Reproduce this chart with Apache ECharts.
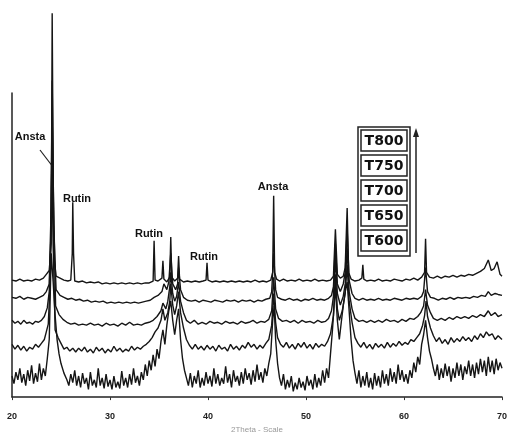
<!DOCTYPE html>
<html>
<head>
<meta charset="utf-8">
<script src="https://cdn.jsdelivr.net/npm/echarts@6/dist/echarts.min.js"></script>
<style>
html, body { margin: 0; padding: 0; background: #fff; }
#xrd { width: 512px; height: 439px; }
</style>
</head>
<body>
<div id="xrd"></div>
<script>
// tick labels on 2theta axis
var xTicks = [20, 30, 40, 50, 60, 70];
var sampleNames = ['T800', 'T750', 'T700', 'T650', 'T600'];

// [2theta, stacked intensity]
var t800 = [[20,122],[20.4,121],[20.8,123],[21.2,121],[21.6,122],[22,121],[22.4,123],[22.8,122],[23.2,124],[23.5,128],[23.8,132],[24.0,160],[24.1,400],[24.25,150],[24.5,126],[24.9,124],[25.3,122],[25.7,121],[26.0,122],[26.15,150],[26.2,203],[26.28,150],[26.4,121],[26.8,120],[27.2,121],[27.6,119],[28,120],[28.4,119],[28.8,120],[29.2,118],[29.6,119],[30,118],[30.4,119],[30.8,118],[31.2,119],[31.6,118],[32,119],[32.4,118],[32.8,119],[33.2,118],[33.6,119],[34,119],[34.4,121],[34.5,163],[34.6,122],[34.9,121],[35.3,124],[35.4,142],[35.5,123],[35.8,120],[36.1,125],[36.2,167],[36.3,125],[36.6,121],[36.9,124],[37.0,147],[37.1,123],[37.5,120],[37.9,121],[38.3,120],[38.7,121],[39.1,120],[39.5,121],[39.8,122],[39.9,140],[40.0,122],[40.4,120],[40.8,121],[41.2,120],[41.6,121],[42,120],[42.4,121],[42.8,120],[43.2,121],[43.6,120],[44,121],[44.4,120],[44.8,122],[45.2,120],[45.6,121],[46,120],[46.4,122],[46.6,130],[46.7,210],[46.8,130],[47,123],[47.3,121],[47.7,123],[48.1,121],[48.5,122],[48.9,121],[49.3,123],[49.7,121],[50.1,122],[50.5,121],[50.9,123],[51.3,121],[51.7,122],[52.1,121],[52.5,122],[52.8,126],[53.0,175],[53.2,128],[53.5,124],[53.8,126],[54.0,135],[54.2,197],[54.35,130],[54.6,123],[55,121],[55.4,122],[55.7,124],[55.8,138],[55.9,123],[56.2,121],[56.6,122],[57,121],[57.4,123],[57.8,121],[58.2,122],[58.6,121],[59,123],[59.4,122],[59.8,121],[60.2,123],[60.6,122],[61,124],[61.4,122],[61.8,125],[62.1,130],[62.2,165],[62.3,130],[62.6,125],[63,124],[63.4,126],[63.8,124],[64.2,126],[64.6,125],[65,127],[65.4,125],[65.8,127],[66.2,126],[66.6,128],[67,127],[67.4,129],[67.8,131],[68.2,134],[68.6,143],[68.9,132],[69.2,134],[69.5,141],[69.8,128],[70,126]];

var t750 = [[20,104],[20.4,103],[20.8,105],[21.2,102],[21.6,104],[22,103],[22.4,102],[22.8,104],[23.2,106],[23.5,110],[23.8,118],[24.0,200],[24.1,330],[24.25,180],[24.5,112],[24.9,106],[25.3,104],[25.7,102],[26.1,103],[26.5,101],[26.9,102],[27.3,100],[27.7,101],[28.1,99],[28.5,100],[28.9,99],[29.3,100],[29.7,98],[30.1,99],[30.5,98],[30.9,99],[31.3,98],[31.7,99],[32.1,98],[32.5,99],[32.9,98],[33.3,99],[33.7,100],[34.1,101],[34.5,104],[34.9,106],[35.3,110],[35.5,118],[35.8,112],[36.0,120],[36.2,150],[36.4,118],[36.7,112],[36.9,118],[37.0,135],[37.2,112],[37.5,104],[37.9,101],[38.3,100],[38.7,101],[39.1,99],[39.5,101],[39.9,100],[40.3,99],[40.7,101],[41.1,100],[41.5,99],[41.9,101],[42.3,100],[42.7,101],[43.1,99],[43.5,101],[43.9,100],[44.3,101],[44.7,99],[45.1,101],[45.5,100],[45.9,102],[46.3,103],[46.5,110],[46.7,150],[46.9,112],[47.1,104],[47.5,102],[47.9,101],[48.3,103],[48.7,101],[49.1,102],[49.5,100],[49.9,102],[50.3,101],[50.7,103],[51.1,101],[51.5,102],[51.9,101],[52.3,103],[52.6,106],[52.8,115],[53.0,160],[53.2,118],[53.5,110],[53.8,118],[54.0,130],[54.2,175],[54.4,122],[54.7,108],[55,103],[55.4,101],[55.8,103],[56.2,101],[56.6,102],[57,101],[57.4,103],[57.8,101],[58.2,102],[58.6,101],[59,103],[59.4,102],[59.8,101],[60.2,103],[60.6,102],[61,103],[61.4,102],[61.8,105],[62.0,110],[62.2,135],[62.4,110],[62.7,104],[63.1,103],[63.5,101],[63.9,103],[64.3,102],[64.7,104],[65.1,102],[65.5,104],[65.9,103],[66.3,104],[66.7,103],[67.1,105],[67.5,104],[67.9,106],[68.3,105],[68.6,110],[68.9,106],[69.3,108],[69.6,107],[70,106]];

var t700 = [[20,80],[20.3,77],[20.6,79],[20.9,76],[21.2,80],[21.5,77],[21.8,78],[22.1,76],[22.4,79],[22.7,78],[23.0,80],[23.3,84],[23.6,93],[23.8,110],[24.0,180],[24.1,290],[24.25,200],[24.45,95],[24.8,86],[25.2,81],[25.6,78],[26,76],[26.4,77],[26.8,75],[27.2,76],[27.6,75],[28,77],[28.4,75],[28.8,76],[29.2,74],[29.6,77],[30,75],[30.4,76],[30.8,74],[31.2,77],[31.6,75],[32,78],[32.4,75],[32.8,76],[33.2,75],[33.6,77],[34,78],[34.4,80],[34.8,84],[35.2,90],[35.4,98],[35.7,92],[35.9,100],[36.1,115],[36.2,130],[36.4,108],[36.6,100],[36.8,105],[37.0,120],[37.2,100],[37.5,88],[37.8,80],[38.2,77],[38.6,80],[39,76],[39.4,78],[39.8,76],[40.2,79],[40.6,77],[41,78],[41.4,76],[41.8,79],[42.2,77],[42.6,78],[43,76],[43.4,79],[43.8,77],[44.2,78],[44.6,80],[45,77],[45.4,79],[45.8,78],[46.2,81],[46.5,90],[46.7,125],[46.9,92],[47.2,82],[47.6,79],[48,80],[48.4,78],[48.8,80],[49.2,77],[49.6,80],[50,78],[50.4,79],[50.8,77],[51.2,80],[51.6,78],[52,79],[52.3,82],[52.6,90],[52.8,105],[53.0,145],[53.2,108],[53.5,96],[53.8,105],[54.0,118],[54.2,155],[54.4,110],[54.7,92],[55,82],[55.4,79],[55.8,80],[56.2,78],[56.6,80],[57,78],[57.4,80],[57.8,78],[58.2,81],[58.6,79],[59,80],[59.4,78],[59.8,81],[60.2,79],[60.6,82],[61,81],[61.4,84],[61.7,88],[62.0,95],[62.2,112],[62.4,96],[62.7,88],[63,82],[63.4,80],[63.8,82],[64.2,80],[64.6,83],[65,81],[65.4,84],[65.8,82],[66.2,84],[66.6,82],[67,85],[67.4,83],[67.8,86],[68.2,84],[68.6,90],[68.9,85],[69.3,88],[69.6,84],[70,86]];

var t650 = [[20,55],[20.3,50],[20.6,54],[20.9,49],[21.2,53],[21.5,48],[21.8,52],[22.1,50],[22.4,55],[22.7,52],[23.0,56],[23.3,60],[23.5,68],[23.7,76],[23.9,120],[24.05,250],[24.2,160],[24.4,70],[24.7,62],[25.0,56],[25.3,50],[25.6,52],[25.9,48],[26.2,51],[26.5,47],[26.8,51],[27.1,48],[27.4,52],[27.7,47],[28,50],[28.3,46],[28.6,52],[28.9,48],[29.2,51],[29.5,46],[29.8,50],[30.1,47],[30.4,53],[30.7,48],[31,51],[31.3,47],[31.6,50],[31.9,48],[32.2,53],[32.5,49],[32.8,52],[33.1,50],[33.4,53],[33.7,55],[34,58],[34.3,62],[34.6,68],[34.9,72],[35.2,80],[35.4,92],[35.6,80],[35.9,88],[36.1,100],[36.2,118],[36.4,96],[36.6,86],[36.8,95],[37.0,110],[37.2,88],[37.5,72],[37.8,60],[38.1,54],[38.4,50],[38.7,55],[39,50],[39.3,53],[39.6,49],[39.9,54],[40.2,50],[40.5,53],[40.8,48],[41.1,54],[41.4,50],[41.7,52],[42,48],[42.3,55],[42.6,50],[42.9,53],[43.2,49],[43.5,54],[43.8,51],[44.1,57],[44.4,52],[44.7,55],[45,50],[45.3,54],[45.6,51],[45.9,56],[46.2,60],[46.5,75],[46.7,108],[46.9,78],[47.1,62],[47.4,55],[47.7,52],[48,57],[48.3,51],[48.6,55],[48.9,50],[49.2,56],[49.5,52],[49.8,57],[50.1,51],[50.4,55],[50.7,50],[51,56],[51.3,52],[51.6,55],[51.9,53],[52.2,58],[52.5,66],[52.8,85],[53.0,128],[53.2,92],[53.4,80],[53.7,90],[54.0,108],[54.2,138],[54.4,100],[54.7,78],[55,62],[55.3,56],[55.6,52],[55.9,57],[56.2,51],[56.5,55],[56.8,50],[57.1,56],[57.4,52],[57.7,55],[58,51],[58.3,57],[58.6,52],[58.9,56],[59.2,53],[59.5,58],[59.8,54],[60.1,57],[60.4,55],[60.7,60],[61,58],[61.3,62],[61.6,66],[61.9,75],[62.1,85],[62.25,100],[62.4,84],[62.7,72],[63,64],[63.3,58],[63.6,62],[63.9,56],[64.2,60],[64.5,55],[64.8,62],[65.1,57],[65.4,61],[65.7,58],[66,63],[66.3,59],[66.6,62],[66.9,58],[67.2,64],[67.5,60],[67.8,66],[68.1,62],[68.4,68],[68.7,64],[69,66],[69.3,60],[69.6,64],[70,60]];

var t600 = [[20,22],[20.2,14],[20.4,26],[20.6,18],[20.8,30],[21.0,15],[21.2,24],[21.4,12],[21.6,28],[21.8,17],[22.0,33],[22.2,14],[22.4,25],[22.6,16],[22.8,35],[23.0,18],[23.2,30],[23.4,22],[23.6,40],[23.8,60],[24.0,150],[24.2,120],[24.4,85],[24.6,60],[24.8,45],[25.0,35],[25.3,25],[25.6,18],[25.8,12],[26.0,24],[26.2,15],[26.4,28],[26.6,12],[26.8,22],[27.0,10],[27.2,25],[27.4,14],[27.6,20],[27.8,8],[28.0,26],[28.2,12],[28.4,18],[28.6,10],[28.8,30],[29.0,12],[29.2,20],[29.4,9],[29.6,24],[29.8,11],[30.0,18],[30.2,8],[30.4,22],[30.6,10],[30.8,16],[31.0,9],[31.2,27],[31.4,12],[31.6,20],[31.8,10],[32.0,24],[32.2,13],[32.4,30],[32.6,15],[32.8,22],[33.0,12],[33.2,26],[33.4,18],[33.6,34],[33.8,22],[34.0,38],[34.2,28],[34.4,44],[34.6,32],[34.8,50],[35.0,40],[35.2,58],[35.4,70],[35.6,55],[35.8,75],[36.0,90],[36.2,100],[36.4,80],[36.6,65],[36.8,80],[37.0,92],[37.2,60],[37.4,40],[37.6,28],[37.8,20],[38.0,12],[38.2,25],[38.4,10],[38.6,22],[38.8,14],[39.0,28],[39.2,10],[39.4,20],[39.6,12],[39.8,26],[40.0,14],[40.2,22],[40.4,11],[40.6,30],[40.8,14],[41.0,24],[41.2,12],[41.4,20],[41.6,14],[41.8,32],[42.0,15],[42.2,24],[42.4,10],[42.6,28],[42.8,16],[43.0,22],[43.2,12],[43.4,26],[43.6,14],[43.8,30],[44.0,18],[44.2,25],[44.4,13],[44.6,28],[44.8,16],[45.0,34],[45.2,18],[45.4,26],[45.6,15],[45.8,30],[46.0,22],[46.2,35],[46.4,45],[46.6,80],[46.75,95],[46.9,60],[47.1,35],[47.3,20],[47.5,12],[47.7,24],[47.9,8],[48.1,18],[48.3,10],[48.5,22],[48.7,6],[48.9,15],[49.1,8],[49.3,20],[49.5,10],[49.7,16],[49.9,7],[50.1,22],[50.3,12],[50.5,18],[50.7,8],[50.9,24],[51.1,10],[51.3,20],[51.5,12],[51.7,28],[51.9,15],[52.1,30],[52.3,20],[52.5,45],[52.7,70],[52.9,100],[53.0,115],[53.2,80],[53.4,60],[53.6,78],[53.8,95],[54.0,110],[54.2,120],[54.4,90],[54.6,60],[54.8,38],[55.0,25],[55.2,14],[55.4,28],[55.6,10],[55.8,22],[56.0,12],[56.2,26],[56.4,10],[56.6,20],[56.8,8],[57.0,25],[57.2,12],[57.4,22],[57.6,10],[57.8,28],[58.0,14],[58.2,24],[58.4,12],[58.6,30],[58.8,16],[59.0,26],[59.2,14],[59.4,34],[59.6,18],[59.8,28],[60.0,16],[60.2,24],[60.4,14],[60.6,28],[60.8,20],[61.0,36],[61.2,26],[61.4,42],[61.6,34],[61.8,55],[62.0,65],[62.2,80],[62.4,62],[62.6,48],[62.8,40],[63.0,30],[63.2,22],[63.4,34],[63.6,18],[63.8,30],[64.0,20],[64.2,35],[64.4,22],[64.6,32],[64.8,16],[65.0,30],[65.2,20],[65.4,36],[65.6,22],[65.8,34],[66.0,18],[66.2,32],[66.4,24],[66.6,38],[66.8,22],[67.0,34],[67.2,20],[67.4,36],[67.6,24],[67.8,40],[68.0,26],[68.2,38],[68.4,22],[68.6,42],[68.8,26],[69.0,38],[69.2,24],[69.4,40],[69.6,28],[69.8,36],[70,30]];

var traces = [t800, t750, t700, t650, t600];

var chart = echarts.init(document.getElementById('xrd'));

var series = [];
for (var i = traces.length - 1; i >= 0; i--) {
    series.push({
        name: sampleNames[i],
        type: 'line',
        data: traces[i],
        showSymbol: false,
        clip: false,
        lineStyle: { color: '#151515', width: 1.4 },
        z: 10 - i
    });
}

// peak labels
var txt = function (s, x, y) {
    return {
        type: 'text', x: x, y: y,
        style: { text: s, font: 'bold 11px "Liberation Sans"', fill: '#111', align: 'center', verticalAlign: 'middle' }
    };
};

// boxed sample list with arrow on the right
var boxes = [{
    type: 'rect', shape: { x: 358, y: 127, width: 52, height: 129 },
    style: { fill: '#fff', stroke: '#222', lineWidth: 1.5 }
}];
sampleNames.forEach(function (name, k) {
    boxes.push({
        type: 'rect', shape: { x: 361, y: 130 + k * 25, width: 46, height: 21 },
        style: { fill: '#fff', stroke: '#222', lineWidth: 1.5 }
    });
    boxes.push({
        type: 'text', x: 384, y: 141 + k * 25,
        style: { text: name, font: 'bold 14px "DejaVu Sans"', fill: '#111', align: 'center', verticalAlign: 'middle' }
    });
});

chart.setOption({
    animation: false,
    grid: { left: 12, right: 10, top: 93, bottom: 29 },
    xAxis: {
        type: 'value',
        min: xTicks[0],
        max: xTicks[xTicks.length - 1],
        interval: 10,
        name: '2Theta - Scale',
        nameLocation: 'middle',
        nameGap: 25,
        nameTextStyle: { color: '#999', fontSize: 8, fontFamily: 'Liberation Sans' },
        axisLine: { lineStyle: { color: '#222', width: 1.5 } },
        axisTick: { length: 3, lineStyle: { color: '#333' } },
        axisLabel: { margin: 15, color: '#222', fontSize: 9, fontWeight: 'bold', fontFamily: 'Liberation Sans' },
        splitLine: { show: false }
    },
    yAxis: {
        type: 'value',
        min: 0,
        max: 317,
        axisLine: { show: true, lineStyle: { color: '#222', width: 1.5 } },
        axisTick: { show: false },
        axisLabel: { show: false },
        splitLine: { show: false }
    },
    series: series,
    graphic: [
        txt('Ansta', 30, 137),
        { type: 'line', shape: { x1: 40, y1: 150, x2: 53, y2: 167 }, style: { stroke: '#222', lineWidth: 1.2 } },
        txt('Rutin', 77, 199),
        txt('Rutin', 149, 234),
        txt('Rutin', 204, 257),
        txt('Ansta', 273, 187),
        { type: 'line', shape: { x1: 416, y1: 253, x2: 416, y2: 134 }, style: { stroke: '#222', lineWidth: 1.5 } },
        { type: 'polygon', shape: { points: [[413, 137], [416, 128], [419, 137]] }, style: { fill: '#222' } }
    ].concat(boxes)
});
</script>
</body>
</html>
